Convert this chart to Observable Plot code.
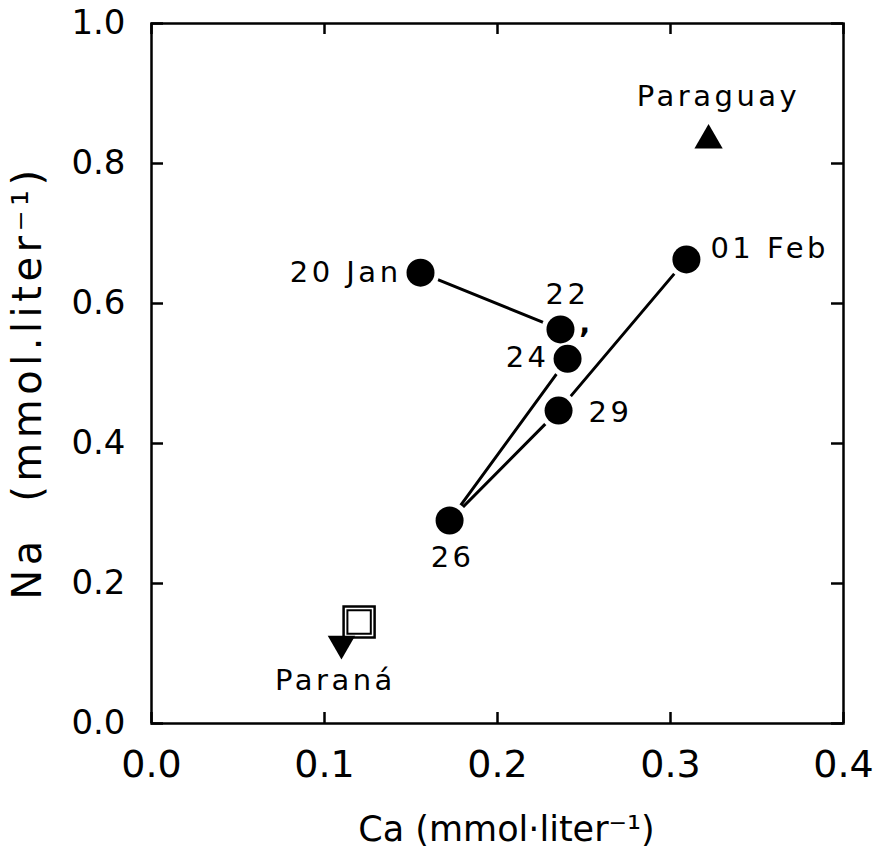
<!DOCTYPE html>
<html>
<head>
<meta charset="utf-8">
<script src="https://cdn.jsdelivr.net/npm/d3@7"></script>
<script src="https://cdn.jsdelivr.net/npm/@observablehq/plot@0.6"></script>
<style>
  html, body { margin: 0; padding: 0; background: #fff; }
</style>
</head>
<body>
<div id="chart"></div>
<script>
// Sampling dates along the river, with Ca and Na concentrations (mmol/liter)
const dates = ["20 Jan", "22", "24", "26", "29", "01 Feb"];
const caValues = [0.1555, 0.2364, 0.2405, 0.1723, 0.2353, 0.3092];
const naValues = [0.644, 0.563, 0.521, 0.290, 0.447, 0.663];

// Tributary end-members
const paraguayCa = 0.322, paraguayNa = 0.833;
const paranaCa = 0.1098, paranaNa = 0.114;
const squareCa = 0.120, squareNa = 0.145;

// Axis ticks and titles
const xTicks = [0.0, 0.1, 0.2, 0.3, 0.4];
const yTicks = [0.0, 0.2, 0.4, 0.6, 0.8, 1.0];
const xTitle = "Ca (mmol·liter⁻¹)";
const yTitle = "Na  (mmol.liter⁻¹)";

const samples = dates.map((d, i) => ({date: d, ca: caValues[i], na: naValues[i]}));
const byDate = Object.fromEntries(samples.map(d => [d.date, d]));

const labelFont = 29;
const yTitleFont = 40;
const label = (name, opts) =>
  Plot.text([byDate[name]], {x: "ca", y: "na", text: "date", fontSize: labelFont, lineAnchor: "middle", ...opts});

const chart = Plot.plot({
  width: 877,
  height: 859,
  marginLeft: 151,
  marginRight: 34,
  marginTop: 23,
  marginBottom: 136,
  x: {domain: [0, 0.4]},
  y: {domain: [0, 1]},
  style: {fontFamily: "DejaVu Sans", background: "white", color: "black", overflow: "visible"},
  marks: [
    // tick labels
    Plot.axisX(xTicks, {tickSize: 0, tickPadding: 27, fontSize: 38, tickFormat: d3.format(".1f"), label: null}),
    Plot.axisY(yTicks, {tickSize: 0, tickPadding: 26, fontSize: 34, tickFormat: d3.format(".1f"), label: null}),
    // inward ticks on all four sides
    Plot.ruleX(xTicks, {stroke: "black", strokeWidth: 2.5, insetTop: 689}),
    Plot.ruleX(xTicks, {stroke: "black", strokeWidth: 2.5, insetBottom: 689}),
    Plot.ruleY(yTicks, {stroke: "black", strokeWidth: 2.5, insetRight: 680}),
    Plot.ruleY(yTicks, {stroke: "black", strokeWidth: 2.5, insetLeft: 680}),
    Plot.frame({stroke: "black", strokeWidth: 2.5}),

    // time course of the samples
    Plot.line(samples, {x: "ca", y: "na", stroke: "black", strokeWidth: 3}),
    Plot.dot(samples, {x: "ca", y: "na", r: 19, fill: "white"}),
    Plot.dot(samples, {x: "ca", y: "na", r: 14, fill: "black"}),

    // end-members
    Plot.dot([{ca: paraguayCa, na: paraguayNa}], {x: "ca", y: "na", symbol: "triangle", r: 10.5, fill: "black"}),
    Plot.dot([{ca: paranaCa, na: paranaNa}], {x: "ca", y: "na", symbol: "triangle", r: 10.2, fill: "black", rotate: 180}),
    Plot.dot([{ca: squareCa, na: squareNa}], {x: "ca", y: "na", symbol: "square", r: 17.5, fill: "none", stroke: "black", strokeWidth: 2.5}),
    Plot.dot([{ca: squareCa, na: squareNa}], {x: "ca", y: "na", symbol: "square", r: 13.2, fill: "none", stroke: "black", strokeWidth: 2}),

    // sample labels
    label("20 Jan", {textAnchor: "end", dx: -19, dy: 0}),
    label("22", {textAnchor: "middle", dx: 7, dy: -35}),
    label("24", {textAnchor: "end", dx: -18, dy: -1}),
    label("26", {textAnchor: "middle", dx: 3, dy: 37}),
    label("29", {textAnchor: "start", dx: 30, dy: 2}),
    label("01 Feb", {textAnchor: "start", dx: 24, dy: -11}),
    Plot.text([byDate["22"]], {x: "ca", y: "na", text: () => ",", fontSize: labelFont, fontWeight: "bold", lineAnchor: "bottom", dx: 26, dy: 4}),
    Plot.text([{ca: paraguayCa, na: paraguayNa}], {x: "ca", y: "na", text: () => "Paraguay", fontSize: labelFont, lineAnchor: "middle", dx: 10, dy: -44}),
    Plot.text([{ca: paranaCa, na: paranaNa}], {x: "ca", y: "na", text: () => "Paraná", fontSize: labelFont, lineAnchor: "middle", dx: -6, dy: 37}),

    // axis titles
    Plot.text([xTitle], {frameAnchor: "bottom", text: d => d, fontSize: 35, textAnchor: "middle", lineAnchor: "bottom", dx: 9, dy: 117}),
    Plot.text([yTitle], {frameAnchor: "left", text: d => d, fontSize: yTitleFont, rotate: -90, textAnchor: "middle", lineAnchor: "middle", dx: -123, dy: 9})
  ]
});

// spaced lettering for the point labels and the vertical title
const sel = d3.select(chart).selectAll('g[aria-label="text"]');
sel.filter(function() { return +this.getAttribute("font-size") === labelFont; })
  .attr("letter-spacing", 3.5);
sel.filter(function() { return +this.getAttribute("font-size") === yTitleFont; })
  .attr("letter-spacing", 4.5);

document.getElementById("chart").appendChild(chart);
</script>
</body>
</html>
